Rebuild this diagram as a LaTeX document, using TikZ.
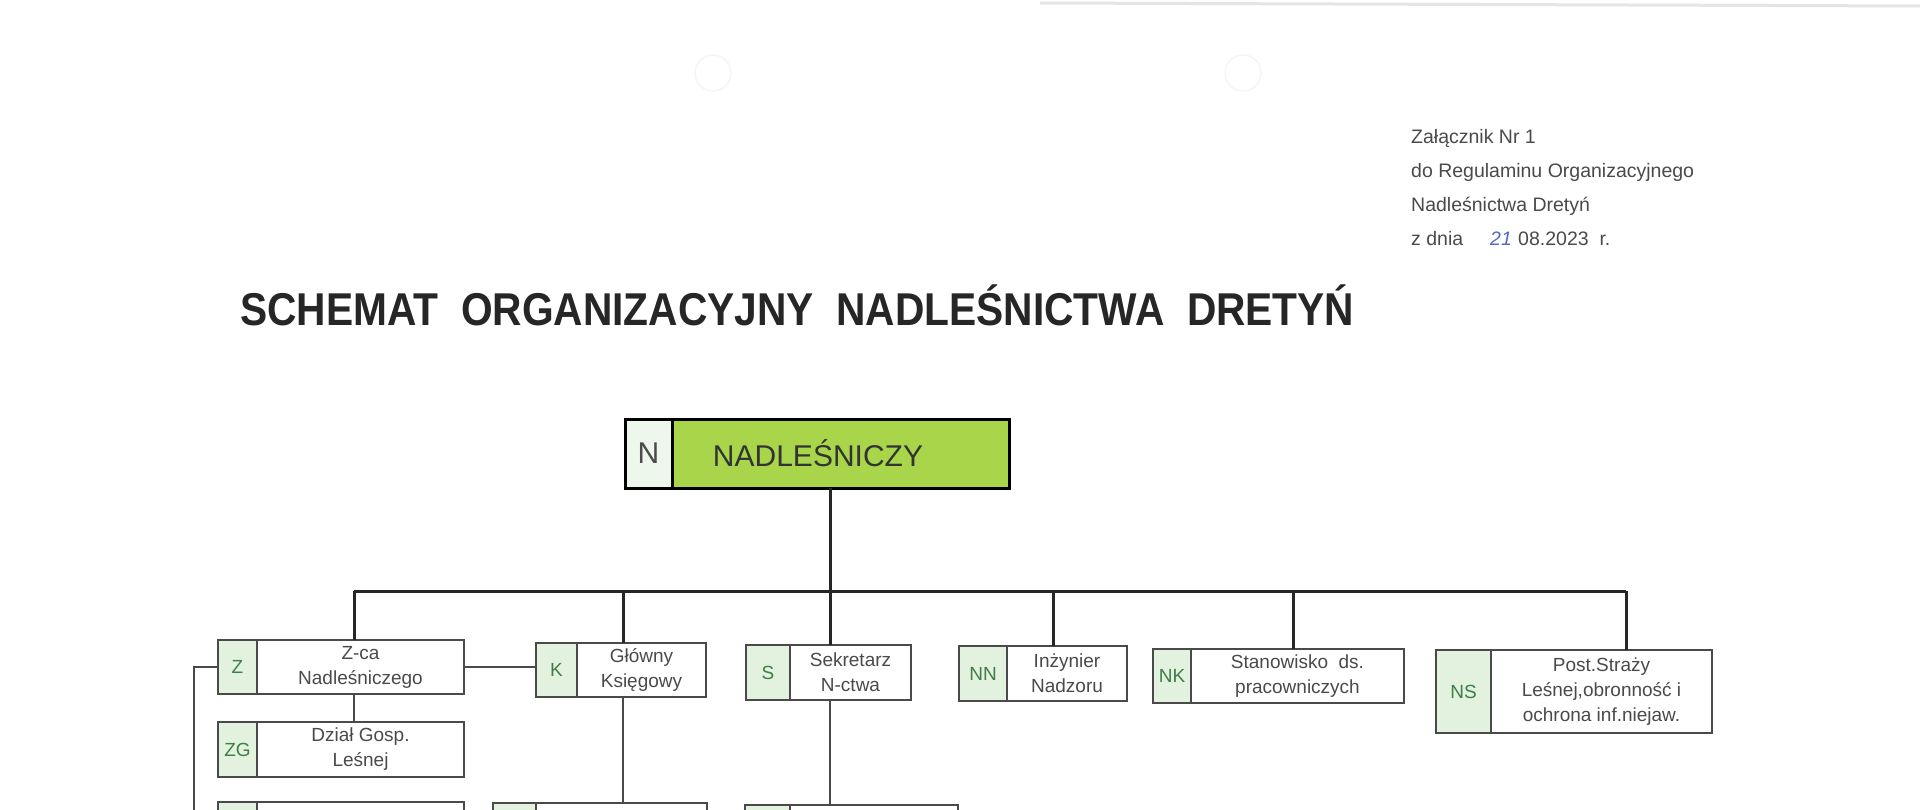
\documentclass[tikz,border=0pt]{standalone}
\usepackage{fontspec}
\setmainfont{Liberation Sans}
\usetikzlibrary{positioning}
\definecolor{lime-green}{HTML}{A8D54A}
\definecolor{pale-green}{HTML}{E2F2DE}
\definecolor{code-green}{HTML}{3E7E48}
\definecolor{scan-gray}{HTML}{4A4A4A}
\definecolor{ink-blue}{HTML}{5468C8}

\begin{document}
\begin{tikzpicture}[x=1pt, y=-1pt,
    unit/.style={draw=scan-gray, line width=2pt, fill=white, inner sep=0pt, outer sep=0pt, align=center,
      text=scan-gray, font=\fontsize{19}{25}\selectfont, anchor=north west},
    code/.style={draw=scan-gray, line width=2pt, fill=pale-green, inner sep=0pt, outer sep=0pt,
      text=code-green, font=\fontsize{19}{25}\selectfont},
    bus/.style={line width=3pt, black!85},
    link/.style={line width=2pt, scan-gray},
    header/.style={anchor=base west, inner sep=0pt, text=scan-gray, font=\fontsize{19.5}{24}\selectfont}]
    \useasboundingbox (0, 0) rectangle (1920, 810);
    \clip (0, 0) rectangle (1920, 810);
    \fill[white] (0, 0) rectangle (1920, 810);
    \draw[black!10, line width=3pt] (1040, 3) -- (1920, 6);
    \draw[black!4, line width=1.5pt] (713, 73) circle (18);
    \draw[black!4, line width=1.5pt] (1243, 73) circle (18);

    \node[header] (h1) at (1411, 144) {Załącznik Nr 1};
    \node[header] (h2) at (1411, 178) {do Regulaminu Organizacyjnego};
    \node[header] (h3) at (1411, 212) {Nadleśnictwa Dretyń};
    \node[header] (h4) at (1411, 246) {z dnia};
    \node[header, text=ink-blue, font=\fontsize{19.5}{24}\itshape] (h5) at (1490, 246) {21};
    \node[header] (h6) at (1518, 246) {08.2023\ \ r.};
    \node[anchor=base west, inner sep=0pt, text=black!85, font=\fontsize{46}{50}\bfseries] (title) at (240, 326)
      {\scalebox{0.885}[1]{SCHEMAT\ \ ORGANIZACYJNY\ \ NADLEŚNICTWA\ \ DRETYŃ}};

    \node[unit, draw=black, line width=3pt, fill=lime-green, text=black!80, font=\fontsize{30}{34}\selectfont,
      minimum width=337, minimum height=69] (N) at (672, 419) {\hspace*{-45pt}NADLEŚNICZY};
    \node[code, draw=black, line width=3pt, fill=pale-green!60, text=black!70, font=\fontsize{30}{34}\selectfont,
      minimum width=47, minimum height=69, left=0pt of N] (Nc) {N};

    \node[unit, minimum width=207, minimum height=54] (Z) at (257, 640) {Z-ca\\Nadleśniczego};
    \node[code, minimum width=39, minimum height=54, left=0pt of Z] (Zc) {Z};
    \node[unit, minimum width=207, minimum height=55] (ZG) at (257, 722) {Dział Gosp.\\Leśnej};
    \node[code, minimum width=39, minimum height=55, left=0pt of ZG] (ZGc) {ZG};
    \node[unit, minimum width=129, minimum height=54] (K) at (577, 643) {Główny\\Księgowy};
    \node[code, minimum width=41, minimum height=54, left=0pt of K] (Kc) {K};
    \node[unit, minimum width=121, minimum height=55] (S) at (790, 645) {Sekretarz\\N-ctwa};
    \node[code, minimum width=44, minimum height=55, left=0pt of S] (Sc) {S};
    \node[unit, minimum width=120, minimum height=55] (NN) at (1007, 646) {Inżynier\\Nadzoru};
    \node[code, minimum width=48, minimum height=55, left=0pt of NN] (NNc) {NN};
    \node[unit, minimum width=213, minimum height=54] (NK) at (1191, 649) {Stanowisko\ \ ds.\\pracowniczych};
    \node[code, minimum width=38, minimum height=54, left=0pt of NK] (NKc) {NK};
    \node[unit, minimum width=221, minimum height=83] (NS) at (1491, 650) {Post.Straży\\Leśnej,obronność i\\ochrona inf.niejaw.};
    \node[code, minimum width=55, minimum height=83, left=0pt of NS] (NSc) {NS};

    \node[unit, minimum width=207, minimum height=55] (ZX) at (257, 802) {};
    \node[code, minimum width=39, minimum height=55, left=0pt of ZX] (ZXc) {};
    \node[unit, minimum width=171, minimum height=55] (KX) at (536, 803) {};
    \node[code, minimum width=43, minimum height=55, left=0pt of KX] (KXc) {};
    \node[unit, minimum width=168, minimum height=55] (SX) at (790, 805) {};
    \node[code, minimum width=45, minimum height=55, left=0pt of SX] (SXc) {};

    \coordinate (b1) at (354, 591);
    \coordinate (b2) at (623, 591);
    \coordinate (b3) at (830, 591);
    \coordinate (b4) at (1053, 591);
    \coordinate (b5) at (1293, 591);
    \coordinate (b6) at (1626, 591);
    \coordinate (spine) at (194, 830);

    \draw[bus] (N.south -| b3) -- (b3);
    \draw[bus] (b1) -- (b6);
    \draw[bus] (b1) -- (b1 |- Z.north);
    \draw[bus] (b2) -- (b2 |- K.north);
    \draw[bus] (b3) -- (b3 |- S.north);
    \draw[bus] (b4) -- (b4 |- NN.north);
    \draw[bus] (b5) -- (b5 |- NK.north);
    \draw[bus] (b6) -- (b6 |- NS.north);

    \draw[link] (Z.south -| b1) -- (ZG.north -| b1);
    \draw[link] (Z.east) -- (Z.east -| Kc.west);
    \draw[link] (K.south -| b2) -- (KX.north -| b2);
    \draw[link] (S.south -| b3) -- (SX.north -| b3);
    \draw[link] (Zc.west) -| (spine);
  \end{tikzpicture}
\end{document}
